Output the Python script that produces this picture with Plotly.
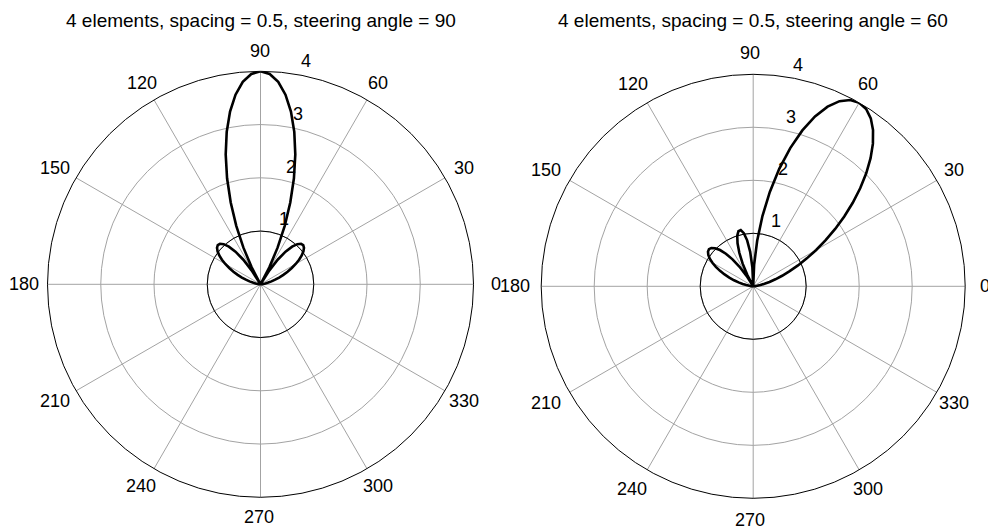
import math
import plotly.graph_objects as go

W, H = 988, 532

# sample angles (degrees) of the array-factor curves
theta_deg = [
    0, 2.5, 5, 7.5, 10, 12.5, 15, 17.5, 20, 22.5, 25, 27.5, 30, 32.5, 35, 37.5,
    40, 42.5, 45, 47.5, 50, 52.5, 55, 57.5, 60, 62.5, 65, 67.5, 70, 72.5, 75, 77.5,
    80, 82.5, 85, 87.5, 90, 92.5, 95, 97.5, 100, 102.5, 105, 107.5, 110, 112.5,
    115, 117.5, 120, 122.5, 125, 127.5, 130, 132.5, 135, 137.5, 140, 142.5, 145,
    147.5, 150, 152.5, 155, 157.5, 160, 162.5, 165, 167.5, 170, 172.5, 175, 177.5, 180,
]

# |AF| for the broadside (90 deg) steered array
af_steer90 = [
    0.000, 0.006, 0.024, 0.054, 0.095, 0.149, 0.213, 0.288, 0.372, 0.464, 0.561,
    0.662, 0.763, 0.859, 0.945, 1.016, 1.066, 1.088, 1.076, 1.022, 0.924, 0.772,
    0.569, 0.311, 0.000, 0.359, 0.759, 1.189, 1.635, 2.088, 2.525, 2.932, 3.293,
    3.592, 3.815, 3.953, 4.000, 3.953, 3.815, 3.592, 3.293, 2.932, 2.525, 2.088,
    1.635, 1.189, 0.759, 0.359, 0.000, 0.311, 0.569, 0.772, 0.924, 1.022, 1.076,
    1.088, 1.066, 1.016, 0.945, 0.859, 0.763, 0.662, 0.561, 0.464, 0.372, 0.288,
    0.213, 0.149, 0.095, 0.054, 0.024, 0.006, 0.000,
]

# |AF| for the array steered to 60 deg
af_steer60 = [
    0.000, 0.008, 0.034, 0.077, 0.138, 0.218, 0.318, 0.439, 0.581, 0.745, 0.932,
    1.141, 1.372, 1.621, 1.888, 2.166, 2.452, 2.738, 3.016, 3.278, 3.514, 3.714,
    3.868, 3.966, 4.000, 3.964, 3.854, 3.668, 3.410, 3.084, 2.700, 2.270, 1.807,
    1.336, 0.862, 0.412, 0.000, 0.359, 0.653, 0.875, 1.018, 1.085, 1.076, 1.001,
    0.864, 0.684, 0.471, 0.238, 0.000, 0.233, 0.449, 0.641, 0.802, 0.928, 1.017,
    1.071, 1.089, 1.075, 1.034, 0.971, 0.889, 0.794, 0.691, 0.585, 0.480, 0.379,
    0.286, 0.203, 0.132, 0.075, 0.034, 0.008, 0.000,
]

# single-element (isotropic) reference circle
iso_theta = [0, 10, 20, 30, 40, 50, 60, 70, 80, 90, 100, 110, 120, 130, 140, 150,
             160, 170, 180, 190, 200, 210, 220, 230, 240, 250, 260, 270, 280, 290,
             300, 310, 320, 330, 340, 350, 360]
iso_r = [1, 1, 1, 1, 1, 1, 1, 1, 1, 1, 1, 1, 1, 1, 1, 1, 1, 1, 1, 1, 1, 1, 1, 1,
         1, 1, 1, 1, 1, 1, 1, 1, 1, 1, 1, 1, 1]

spoke_angles = [0, 30, 60, 90, 120, 150, 180, 210, 240, 270, 300, 330]
spoke_labels = ["0", "30", "60", "90", "120", "150", "180", "210", "240", "270", "300", "330"]
ring_values = [1, 2, 3, 4]
ring_labels = ["1", "2", "3", "4"]
titles = [
    "4 elements, spacing = 0.5, steering angle = 90",
    "4 elements, spacing = 0.5, steering angle = 60",
]

R_MAX = 4
ring_label_r = [1.31, 2.28, 3.27, 4.27]
ring_label_theta = [70.5, 75.5, 77.4, 78.5]

FONT = "Liberation Sans, Arial, Helvetica, sans-serif"
GRID = "#a3a3a3"

# pixel centres / radius of the two polar plots, plus the ellipse
# (centre x, horizontal and vertical half-axes in px) the spoke labels sit on
panels = [
    dict(cx=260.5, cy=284.3, r=213, lcx=259.5, lrx=236, lry=233, af=af_steer90),
    dict(cx=753.2, cy=286.3, r=212, lcx=750.0, lrx=235, lry=233.5, af=af_steer60),
]


def domain(cx, cy, r):
    return dict(x=[(cx - r) / W, (cx + r) / W],
                y=[(H - cy - r) / H, (H - cy + r) / H])


def polar_to_paper(p, r, theta):
    """Map a (radius, angle) point of panel p to paper coordinates."""
    scale = p["r"] / R_MAX
    t = math.radians(theta)
    px = p["cx"] + r * scale * math.cos(t)
    py = p["cy"] - r * scale * math.sin(t)
    return px / W, 1 - py / H


def spoke_label_pos(p, theta):
    t = math.radians(theta)
    px = p["lcx"] + p["lrx"] * math.cos(t)
    py = p["cy"] - p["lry"] * math.sin(t)
    return px / W, 1 - py / H


fig = go.Figure()
layout = dict(
    width=W, height=H, margin=dict(l=0, r=0, t=0, b=0),
    paper_bgcolor="white", plot_bgcolor="white", showlegend=False,
    font=dict(family=FONT, size=18, color="black"),
)

annotations = []
for i, p in enumerate(panels):
    key = "polar" if i == 0 else f"polar{i + 1}"
    layout[key] = dict(
        domain=domain(p["cx"], p["cy"], p["r"]),
        bgcolor="white",
        radialaxis=dict(range=[0, R_MAX], tickvals=ring_values, showticklabels=False,
                        ticks="", showline=False, gridcolor=GRID, gridwidth=1),
        angularaxis=dict(rotation=0, direction="counterclockwise",
                         tickvals=spoke_angles, showticklabels=False, ticks="",
                         showline=True, linecolor="black", linewidth=1,
                         gridcolor=GRID, gridwidth=1),
    )
    # isotropic element circle
    fig.add_trace(go.Scatterpolar(
        r=iso_r, theta=iso_theta, mode="lines",
        line=dict(color="black", width=1), hoverinfo="skip", subplot=key))
    # array factor
    fig.add_trace(go.Scatterpolar(
        r=p["af"], theta=theta_deg, mode="lines",
        line=dict(color="black", width=2.6), subplot=key))

    # spoke angle labels
    for ang, lab in zip(spoke_angles, spoke_labels):
        x, y = spoke_label_pos(p, ang)
        annotations.append(dict(
            text=lab, x=x, y=y, xref="paper", yref="paper", xanchor="center",
            yanchor="middle", showarrow=False,
            font=dict(family=FONT, size=18, color="black")))
    # ring value labels
    for rr, tt, lab in zip(ring_label_r, ring_label_theta, ring_labels):
        x, y = polar_to_paper(p, rr, tt)
        annotations.append(dict(
            text=lab, x=x, y=y, xref="paper", yref="paper", xanchor="center",
            yanchor="middle", showarrow=False,
            font=dict(family=FONT, size=18, color="black")))

    annotations.append(dict(
        text=titles[i], x=p["cx"] / W, y=1 - 20.7 / H, xref="paper", yref="paper",
        xanchor="center", yanchor="middle", showarrow=False,
        font=dict(family=FONT, size=19, color="black")))

layout["annotations"] = annotations
fig.update_layout(**layout)
fig.write_html("out.html")
